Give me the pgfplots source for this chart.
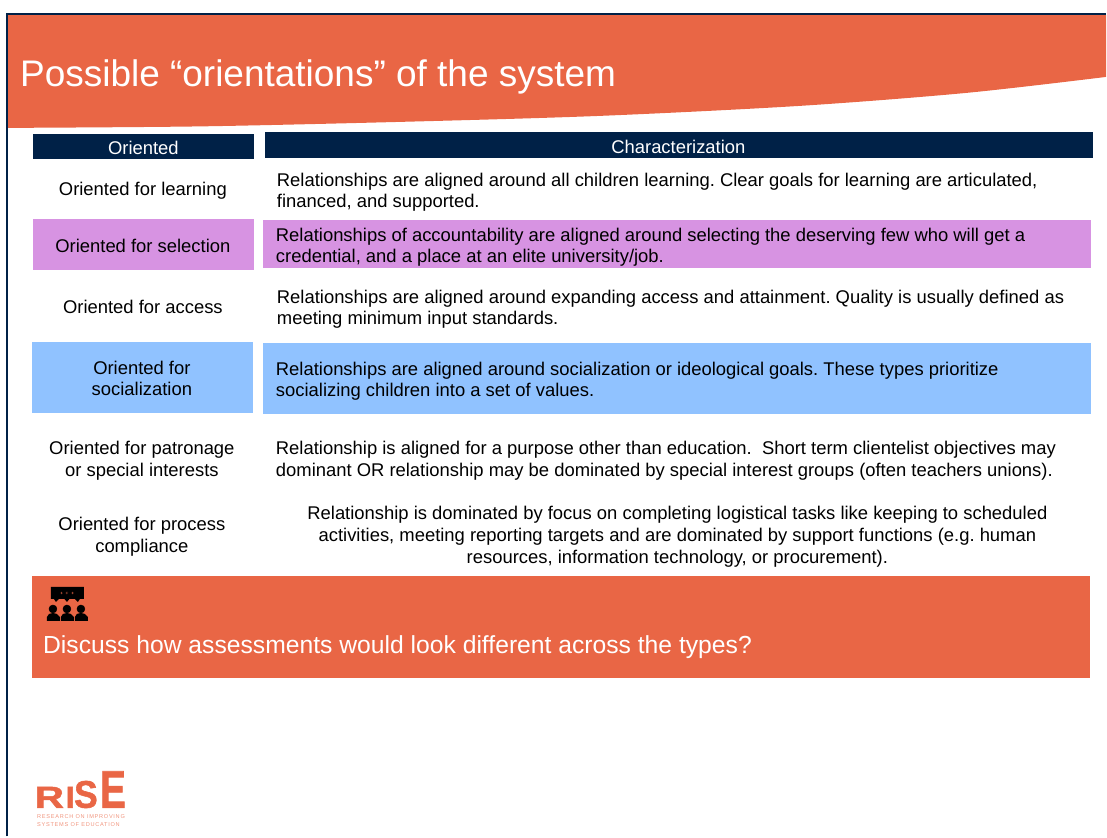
\documentclass[border=0pt]{standalone}
\usepackage{pgfplots}
\pgfplotsset{compat=1.18}
\usepackage{fontspec}
\setmainfont{Liberation Sans}
\frenchspacing
\definecolor{rise}{HTML}{E96645}
\definecolor{navy}{HTML}{002147}
\definecolor{purp}{HTML}{D793E2}
\definecolor{blu}{HTML}{90C2FF}
\newcommand{\rows}[1]{\fontsize{18.43}{20}\selectfont #1}
\newcommand{\TL}[3]{\node[anchor=base west,inner sep=0,text=black] at (axis cs:#1,#2+1) {\rows{#3}};}
\newcommand{\TC}[3]{\node[anchor=base,inner sep=0,text=black] at (axis cs:#1,#2+1) {\rows{#3}};}
\newcommand{\RECT}[5]{\addplot[fill=#1,draw=none] coordinates {(#2,#3)(#4,#3)(#4,#5)(#2,#5)} -- cycle;}
\newcommand{\LOGO}[4]{\node[anchor=base west,inner sep=0,text=rise] at (axis cs:#1,808.5) {\scalebox{#2}[#3]{\fontsize{29}{30}\selectfont\bfseries\addfontfeature{FakeBold=1.5}#4}};}
\begin{document}
\begin{tikzpicture}
\begin{axis}[scale only axis,width=1107pt,height=837pt,xmin=0,xmax=1107,ymin=0,ymax=837,y dir=reverse,hide axis,clip=false]
\path (axis cs:0,0) rectangle (axis cs:1107,837);
% banner
\addplot[fill=rise,draw=none,smooth] coordinates {(8,128)(200,126.5)(400,122)(600,116)(800,106)(967,93)(1107,77)} -- (axis cs:1107,15) -- (axis cs:8,15) -- cycle;
% frame
\addplot[draw=navy,line width=2pt] coordinates {(7,837)(7,14)(1107,14)};
\node[anchor=base west,inner sep=0,text=white] at (axis cs:20,87) {\fontsize{37}{40}\selectfont Possible “orientations” of the system};
% headers
\RECT{navy}{33}{134}{254}{159}
\RECT{navy}{265}{132}{1093.5}{158}
\node[anchor=base,inner sep=0,text=white] at (axis cs:143.5,154.5) {\rows{Oriented}};
\node[anchor=base,inner sep=0,text=white] at (axis cs:679,153.5) {\rows{Characterization}};
% highlights
\RECT{purp}{33}{219}{254}{270}
\RECT{purp}{263}{220}{1091.5}{268}
\RECT{blu}{32}{342}{253}{413}
\RECT{blu}{263}{343}{1091.5}{414}
% left column
\TC{143}{195}{Oriented for learning}
\TC{143}{252}{Oriented for selection}
\TC{143}{313}{Oriented for access}
\TC{142}{374}{Oriented for}
\TC{142}{395}{socialization}
\TC{142}{454}{Oriented for patronage}
\TC{142}{476}{or special interests}
\TC{142}{530}{Oriented for process}
\TC{142}{552}{compliance}
% right column
\TL{277}{186}{Relationships are aligned around all children learning. Clear goals for learning are articulated,}
\TL{277}{207}{financed, and supported.}
\TL{276}{241}{Relationships of accountability are aligned around selecting the deserving few who will get a}
\TL{276}{262}{credential, and a place at an elite university/job.}
\TL{277}{303}{Relationships are aligned around expanding access and attainment. Quality is usually defined as}
\TL{277}{324}{meeting minimum input standards.}
\TL{276}{375}{Relationships are aligned around socialization or ideological goals. These types prioritize}
\TL{276}{396}{socializing children into a set of values.}
\TL{276}{454}{Relationship is aligned for a purpose other than education.\ \ Short term clientelist objectives may}
\TL{276}{476}{dominant OR relationship may be dominated by special interest groups (often teachers unions).}
\TC{678}{519}{Relationship is dominated by focus on completing logistical tasks like keeping to scheduled}
\TC{678}{541}{activities, meeting reporting targets and are dominated by support functions (e.g. human}
\TC{678}{563}{resources, information technology, or procurement).}
% discussion box
\RECT{rise}{32.5}{576.5}{1090.5}{678.5}
\node[anchor=base west,inner sep=0,text=white] at (axis cs:43,654) {\fontsize{24.7}{26}\selectfont Discuss how assessments would look different across the types?};
% icon
\addplot[fill=black,draw=none] coordinates {(51,587.5)(84,587.5)(84,599.5)(80,599.5)(78,602.5)(75,599.5)(69.5,599.5)(67,602.5)(64.5,599.5)(59,599.5)(56,602.5)(54,599.5)(51,599.5)} -- cycle;
\addplot[only marks,mark=*,mark size=1.3pt,mark options={fill=rise,draw=none}] coordinates {(61.7,593.5)(67,593.5)(72.7,593.5)};
\addplot[only marks,mark=*,mark size=4pt,mark options={fill=black,draw=none}] coordinates {(53,609.5)(67,609.5)(81,609.5)};
\addplot[fill=black,draw=none] coordinates {(47,621.5)(47,617.5)(49,614.5)(53,613.5)(57,614.5)(60,617.5)(60,621.5)} -- cycle;
\addplot[fill=black,draw=none] coordinates {(61,621.5)(61,617.5)(63,614.5)(67,613.5)(71,614.5)(74,617.5)(74,621.5)} -- cycle;
\addplot[fill=black,draw=none] coordinates {(75,621.5)(75,617.5)(77,614.5)(81,613.5)(85,614.5)(88,617.5)(88,621.5)} -- cycle;
% logo
\LOGO{34.5}{1.4}{1.05}{R}
\LOGO{65.5}{1.15}{1.05}{I}
\LOGO{74}{1.22}{1.33}{S}
\LOGO{100}{1.33}{1.83}{E}
\node[anchor=base west,inner sep=0,text=rise!70] at (axis cs:37,819) {\fontsize{5.6}{6}\addfontfeature{LetterSpace=13}\selectfont RESEARCH ON IMPROVING};
\node[anchor=base west,inner sep=0,text=rise!70] at (axis cs:37,827) {\fontsize{5.6}{6}\addfontfeature{LetterSpace=13}\selectfont SYSTEMS OF EDUCATION};
\end{axis}
\end{tikzpicture}
\end{document}
